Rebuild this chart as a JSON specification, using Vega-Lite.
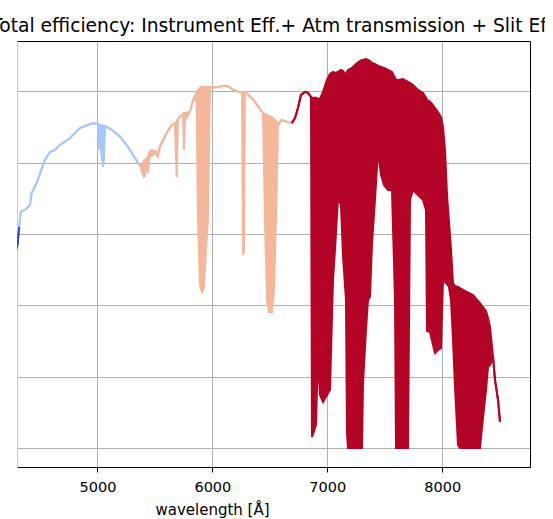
{
  "$schema": "https://vega.github.io/schema/vega-lite/v6.json",
  "width": 513,
  "height": 426,
  "autosize": {"type": "none"},
  "padding": {"left": 17, "top": 41, "right": 15, "bottom": 52},
  "background": "white",
  "config": {"view": {"stroke": null}, "font": "DejaVu Sans"},
  "title": {
    "text": "Total efficiency: Instrument Eff.+ Atm transmission + Slit Efficiency",
    "anchor": "start", "frame": "group", "dx": -26, "dy": 18, "offset": 8, "baseline": "alphabetic",
    "font": "DejaVu Sans", "fontSize": 18.7, "fontWeight": "normal", "color": "#000"
  },
  "data": {"values": [
    {"seg":"d","wl":4290.7,"hi":0.1389,"lo":0.1389},
    {"seg":"d","wl":4303.8,"hi":0.1424,"lo":0.1424},
    {"seg":"d","wl":4312.5,"hi":0.1494,"lo":0.1494},
    {"seg":"d","wl":4319.4,"hi":0.1550,"lo":0.1550},
    {"seg":"b","wl":4319.4,"hi":0.1550,"lo":0.1550},
    {"seg":"b","wl":4331.6,"hi":0.1655,"lo":0.1655},
    {"seg":"b","wl":4369.0,"hi":0.1669,"lo":0.1669},
    {"seg":"b","wl":4412.5,"hi":0.1704,"lo":0.1704},
    {"seg":"b","wl":4427.3,"hi":0.1788,"lo":0.1788},
    {"seg":"b","wl":4470.9,"hi":0.1858,"lo":0.1858},
    {"seg":"b","wl":4499.6,"hi":0.1922,"lo":0.1922},
    {"seg":"b","wl":4543.1,"hi":0.2020,"lo":0.2020},
    {"seg":"b","wl":4586.6,"hi":0.2076,"lo":0.2076},
    {"seg":"b","wl":4630.1,"hi":0.2090,"lo":0.2090},
    {"seg":"b","wl":4673.6,"hi":0.2125,"lo":0.2125},
    {"seg":"b","wl":4717.1,"hi":0.2148,"lo":0.2148},
    {"seg":"b","wl":4760.7,"hi":0.2174,"lo":0.2174},
    {"seg":"b","wl":4804.2,"hi":0.2209,"lo":0.2209},
    {"seg":"b","wl":4847.7,"hi":0.2244,"lo":0.2244},
    {"seg":"b","wl":4891.2,"hi":0.2258,"lo":0.2258},
    {"seg":"b","wl":4934.7,"hi":0.2272,"lo":0.2272},
    {"seg":"b","wl":4978.2,"hi":0.2277,"lo":0.2277},
    {"seg":"b","wl":5004.4,"hi":0.2272,"lo":0.2272},
    {"seg":"b","wl":5013.1,"hi":0.2270,"lo":0.2104},
    {"seg":"b","wl":5030.5,"hi":0.2265,"lo":0.2090},
    {"seg":"b","wl":5047.9,"hi":0.2262,"lo":0.1971},
    {"seg":"b","wl":5056.6,"hi":0.2260,"lo":0.2020},
    {"seg":"b","wl":5065.3,"hi":0.2258,"lo":0.2240},
    {"seg":"b","wl":5080.1,"hi":0.2253,"lo":0.2253},
    {"seg":"b","wl":5134.9,"hi":0.2225,"lo":0.2225},
    {"seg":"b","wl":5195.8,"hi":0.2183,"lo":0.2183},
    {"seg":"b","wl":5239.3,"hi":0.2139,"lo":0.2139},
    {"seg":"b","wl":5282.8,"hi":0.2090,"lo":0.2090},
    {"seg":"b","wl":5326.4,"hi":0.2034,"lo":0.2034},
    {"seg":"b","wl":5352.5,"hi":0.1999,"lo":0.1999},
    {"seg":"b","wl":5369.9,"hi":0.1985,"lo":0.1985},
    {"seg":"s","wl":5369.9,"hi":0.1985,"lo":0.1985},
    {"seg":"s","wl":5378.6,"hi":0.1978,"lo":0.1964},
    {"seg":"s","wl":5387.3,"hi":0.1992,"lo":0.1936},
    {"seg":"s","wl":5404.7,"hi":0.2013,"lo":0.1901},
    {"seg":"s","wl":5413.4,"hi":0.2020,"lo":0.1908},
    {"seg":"s","wl":5422.1,"hi":0.2020,"lo":0.2006},
    {"seg":"s","wl":5430.8,"hi":0.2034,"lo":0.1964},
    {"seg":"s","wl":5439.5,"hi":0.2041,"lo":0.1929},
    {"seg":"s","wl":5456.9,"hi":0.2083,"lo":0.2062},
    {"seg":"s","wl":5474.3,"hi":0.2090,"lo":0.2048},
    {"seg":"s","wl":5500.4,"hi":0.2083,"lo":0.2069},
    {"seg":"s","wl":5526.5,"hi":0.2069,"lo":0.2041},
    {"seg":"s","wl":5543.9,"hi":0.2118,"lo":0.2111},
    {"seg":"s","wl":5602.2,"hi":0.2209,"lo":0.2209},
    {"seg":"s","wl":5645.8,"hi":0.2265,"lo":0.2265},
    {"seg":"s","wl":5674.5,"hi":0.2279,"lo":0.2279},
    {"seg":"s","wl":5689.3,"hi":0.2286,"lo":0.1901},
    {"seg":"s","wl":5700.6,"hi":0.2307,"lo":0.2307},
    {"seg":"s","wl":5718.0,"hi":0.2323,"lo":0.2323},
    {"seg":"s","wl":5744.1,"hi":0.2342,"lo":0.2342},
    {"seg":"s","wl":5752.8,"hi":0.2349,"lo":0.2090},
    {"seg":"s","wl":5761.5,"hi":0.2349,"lo":0.2300},
    {"seg":"s","wl":5805.0,"hi":0.2358,"lo":0.2358},
    {"seg":"s","wl":5833.7,"hi":0.2442,"lo":0.2442},
    {"seg":"s","wl":5863.3,"hi":0.2497,"lo":0.2442},
    {"seg":"s","wl":5874.6,"hi":0.2511,"lo":0.1599},
    {"seg":"s","wl":5892.0,"hi":0.2525,"lo":0.1143},
    {"seg":"s","wl":5909.4,"hi":0.2532,"lo":0.1094},
    {"seg":"s","wl":5926.8,"hi":0.2532,"lo":0.1122},
    {"seg":"s","wl":5944.2,"hi":0.2532,"lo":0.1389},
    {"seg":"s","wl":5961.6,"hi":0.2532,"lo":0.1599},
    {"seg":"s","wl":5970.4,"hi":0.2532,"lo":0.2090},
    {"seg":"s","wl":5979.1,"hi":0.2532,"lo":0.2525},
    {"seg":"s","wl":6037.4,"hi":0.2530,"lo":0.2530},
    {"seg":"s","wl":6094.8,"hi":0.2540,"lo":0.2540},
    {"seg":"s","wl":6138.3,"hi":0.2535,"lo":0.2535},
    {"seg":"s","wl":6181.9,"hi":0.2511,"lo":0.2511},
    {"seg":"s","wl":6225.4,"hi":0.2499,"lo":0.2499},
    {"seg":"s","wl":6257.6,"hi":0.2497,"lo":0.2497},
    {"seg":"s","wl":6266.3,"hi":0.2497,"lo":0.1354},
    {"seg":"s","wl":6275.0,"hi":0.2490,"lo":0.1389},
    {"seg":"s","wl":6283.7,"hi":0.2490,"lo":0.2490},
    {"seg":"s","wl":6298.5,"hi":0.2488,"lo":0.2488},
    {"seg":"s","wl":6355.9,"hi":0.2442,"lo":0.2442},
    {"seg":"s","wl":6399.5,"hi":0.2394,"lo":0.2394},
    {"seg":"s","wl":6440.4,"hi":0.2349,"lo":0.2349},
    {"seg":"s","wl":6457.8,"hi":0.2342,"lo":0.1599},
    {"seg":"s","wl":6475.2,"hi":0.2335,"lo":0.1038},
    {"seg":"s","wl":6492.6,"hi":0.2328,"lo":0.0954},
    {"seg":"s","wl":6518.7,"hi":0.2321,"lo":0.0954},
    {"seg":"s","wl":6536.1,"hi":0.2307,"lo":0.1108},
    {"seg":"s","wl":6553.5,"hi":0.2293,"lo":0.1599},
    {"seg":"s","wl":6570.9,"hi":0.2272,"lo":0.2258},
    {"seg":"s","wl":6603.1,"hi":0.2300,"lo":0.2300},
    {"seg":"s","wl":6646.6,"hi":0.2288,"lo":0.2288},
    {"seg":"s","wl":6690.1,"hi":0.2277,"lo":0.2277},
    {"seg":"r","wl":6690.1,"hi":0.2277,"lo":0.2277},
    {"seg":"r","wl":6718.8,"hi":0.2314,"lo":0.2314},
    {"seg":"r","wl":6745.0,"hi":0.2384,"lo":0.2384},
    {"seg":"r","wl":6771.1,"hi":0.2476,"lo":0.2476},
    {"seg":"r","wl":6805.9,"hi":0.2497,"lo":0.2497},
    {"seg":"r","wl":6832.0,"hi":0.2490,"lo":0.2490},
    {"seg":"r","wl":6858.1,"hi":0.2463,"lo":0.2463},
    {"seg":"r","wl":6866.8,"hi":0.2456,"lo":0.0077},
    {"seg":"r","wl":6901.6,"hi":0.2456,"lo":0.0161},
    {"seg":"r","wl":6919.1,"hi":0.2449,"lo":0.0652},
    {"seg":"r","wl":6936.5,"hi":0.2449,"lo":0.0372},
    {"seg":"r","wl":6962.6,"hi":0.2497,"lo":0.0323},
    {"seg":"r","wl":6997.4,"hi":0.2581,"lo":0.0372},
    {"seg":"r","wl":7023.5,"hi":0.2623,"lo":0.0407},
    {"seg":"r","wl":7049.6,"hi":0.2637,"lo":0.1178},
    {"seg":"r","wl":7067.0,"hi":0.2630,"lo":0.1389},
    {"seg":"r","wl":7093.1,"hi":0.2637,"lo":0.1753},
    {"seg":"r","wl":7119.2,"hi":0.2651,"lo":0.1704},
    {"seg":"r","wl":7136.6,"hi":0.2644,"lo":0.1346},
    {"seg":"r","wl":7162.7,"hi":0.2616,"lo":0.1038},
    {"seg":"r","wl":7171.5,"hi":0.2637,"lo":0.0105},
    {"seg":"r","wl":7180.2,"hi":0.2651,"lo":0.0},
    {"seg":"r","wl":7215.0,"hi":0.2665,"lo":0.0},
    {"seg":"r","wl":7249.8,"hi":0.2693,"lo":0.0},
    {"seg":"r","wl":7284.6,"hi":0.2714,"lo":0.0},
    {"seg":"r","wl":7302.0,"hi":0.2721,"lo":0.0},
    {"seg":"r","wl":7310.7,"hi":0.2721,"lo":0.0456},
    {"seg":"r","wl":7336.8,"hi":0.2728,"lo":0.0828},
    {"seg":"r","wl":7354.2,"hi":0.2721,"lo":0.1038},
    {"seg":"r","wl":7371.6,"hi":0.2714,"lo":0.1059},
    {"seg":"r","wl":7389.0,"hi":0.2700,"lo":0.1438},
    {"seg":"r","wl":7415.1,"hi":0.2693,"lo":0.1739},
    {"seg":"r","wl":7441.3,"hi":0.2679,"lo":0.2090},
    {"seg":"r","wl":7467.4,"hi":0.2672,"lo":0.1915},
    {"seg":"r","wl":7493.5,"hi":0.2665,"lo":0.1844},
    {"seg":"r","wl":7528.3,"hi":0.2651,"lo":0.1809},
    {"seg":"r","wl":7563.1,"hi":0.2637,"lo":0.1809},
    {"seg":"r","wl":7589.2,"hi":0.2595,"lo":0.1038},
    {"seg":"r","wl":7597.9,"hi":0.2581,"lo":0.0},
    {"seg":"r","wl":7615.3,"hi":0.2581,"lo":0.0},
    {"seg":"r","wl":7658.8,"hi":0.2588,"lo":0.0},
    {"seg":"r","wl":7702.4,"hi":0.2567,"lo":0.0},
    {"seg":"r","wl":7719.8,"hi":0.2560,"lo":0.1739},
    {"seg":"r","wl":7745.9,"hi":0.2546,"lo":0.1809},
    {"seg":"r","wl":7789.4,"hi":0.2511,"lo":0.1774},
    {"seg":"r","wl":7832.9,"hi":0.2490,"lo":0.1739},
    {"seg":"r","wl":7859.0,"hi":0.2456,"lo":0.1669},
    {"seg":"r","wl":7867.7,"hi":0.2442,"lo":0.0821},
    {"seg":"r","wl":7893.8,"hi":0.2428,"lo":0.0814},
    {"seg":"r","wl":7919.9,"hi":0.2405,"lo":0.0722},
    {"seg":"r","wl":7937.3,"hi":0.2384,"lo":0.0666},
    {"seg":"r","wl":7963.4,"hi":0.2356,"lo":0.0687},
    {"seg":"r","wl":7989.5,"hi":0.2321,"lo":0.0701},
    {"seg":"r","wl":8006.9,"hi":0.2251,"lo":0.1178},
    {"seg":"r","wl":8024.4,"hi":0.2090,"lo":0.1164},
    {"seg":"r","wl":8041.8,"hi":0.1774,"lo":0.1150},
    {"seg":"r","wl":8059.2,"hi":0.1585,"lo":0.1129},
    {"seg":"r","wl":8076.6,"hi":0.1389,"lo":0.1038},
    {"seg":"r","wl":8094.0,"hi":0.1157,"lo":0.0757},
    {"seg":"r","wl":8111.4,"hi":0.1136,"lo":0.0428},
    {"seg":"r","wl":8137.5,"hi":0.1129,"lo":0.0021},
    {"seg":"r","wl":8154.9,"hi":0.1122,"lo":0.0},
    {"seg":"r","wl":8215.8,"hi":0.1094,"lo":0.0},
    {"seg":"r","wl":8268.0,"hi":0.1073,"lo":0.0},
    {"seg":"r","wl":8329.0,"hi":0.1017,"lo":0.0},
    {"seg":"r","wl":8346.4,"hi":0.0996,"lo":0.0147},
    {"seg":"r","wl":8381.2,"hi":0.0961,"lo":0.0407},
    {"seg":"r","wl":8398.6,"hi":0.0912,"lo":0.0568},
    {"seg":"r","wl":8416.0,"hi":0.0849,"lo":0.0582},
    {"seg":"r","wl":8442.1,"hi":0.0638,"lo":0.0638},
    {"seg":"r","wl":8459.5,"hi":0.0477,"lo":0.0477},
    {"seg":"r","wl":8485.6,"hi":0.0337,"lo":0.0337},
    {"seg":"r","wl":8503.0,"hi":0.0184,"lo":0.0184}
  ]},
  "layer": [
    {
      "mark": {"type": "area", "clip": true, "interpolate": "linear"},
      "encoding": {
        "x": {"field": "wl", "type": "quantitative",
          "scale": {"domain": [4300, 8764], "nice": false, "zero": false},
          "axis": {"orient": "bottom", "values": [5000, 6000, 7000, 8000], "format": "d",
            "grid": true, "gridColor": "#b0b0b0", "gridWidth": 1,
            "domainColor": "#000", "domainWidth": 1, "tickColor": "#000", "tickWidth": 1, "tickSize": 5,
            "labelFont": "DejaVu Sans", "labelFontSize": 14.5, "labelColor": "#000",
            "labelBaseline": "alphabetic", "labelPadding": 19,
            "title": "wavelength [Å]", "titleFont": "DejaVu Sans", "titleFontSize": 15,
            "titleFontWeight": "normal", "titleColor": "#000",
            "titleX": 195, "titleY": 47, "titleBaseline": "alphabetic", "titleAlign": "center"}},
        "y": {"field": "hi", "type": "quantitative",
          "scale": {"domain": [-0.0133, 0.2854], "nice": false, "zero": false},
          "axis": {"orient": "left", "values": [0, 0.05, 0.1, 0.15, 0.2, 0.25],
            "grid": true, "gridColor": "#b0b0b0", "gridWidth": 1,
            "labels": false, "ticks": false, "domainColor": "#c8c8c8", "domainWidth": 1, "title": null}},
        "y2": {"field": "lo"},
        "color": {"field": "seg", "type": "nominal",
          "scale": {"domain": ["d", "b", "s", "r"], "range": ["#3b4cc0", "#aac7fd", "#f5b79c", "#b40426"]},
          "legend": null}
      }
    },
    {
      "mark": {"type": "line", "clip": true, "strokeWidth": 2},
      "encoding": {
        "x": {"field": "wl", "type": "quantitative", "axis": null},
        "y": {"field": "hi", "type": "quantitative", "axis": null},
        "color": {"field": "seg", "type": "nominal", "legend": null}
      }
    },
    {
      "mark": {"type": "line", "clip": true, "strokeWidth": 2},
      "encoding": {
        "x": {"field": "wl", "type": "quantitative",
          "axis": {"orient": "top", "grid": false, "labels": false, "ticks": false,
            "domainColor": "#000", "domainWidth": 1, "title": null}},
        "y": {"field": "lo", "type": "quantitative",
          "axis": {"orient": "right", "grid": false, "labels": false, "ticks": false,
            "domainColor": "#000", "domainWidth": 1, "title": null}},
        "color": {"field": "seg", "type": "nominal", "legend": null}
      }
    }
  ],
  "resolve": {"axis": {"x": "independent", "y": "independent"}}
}
